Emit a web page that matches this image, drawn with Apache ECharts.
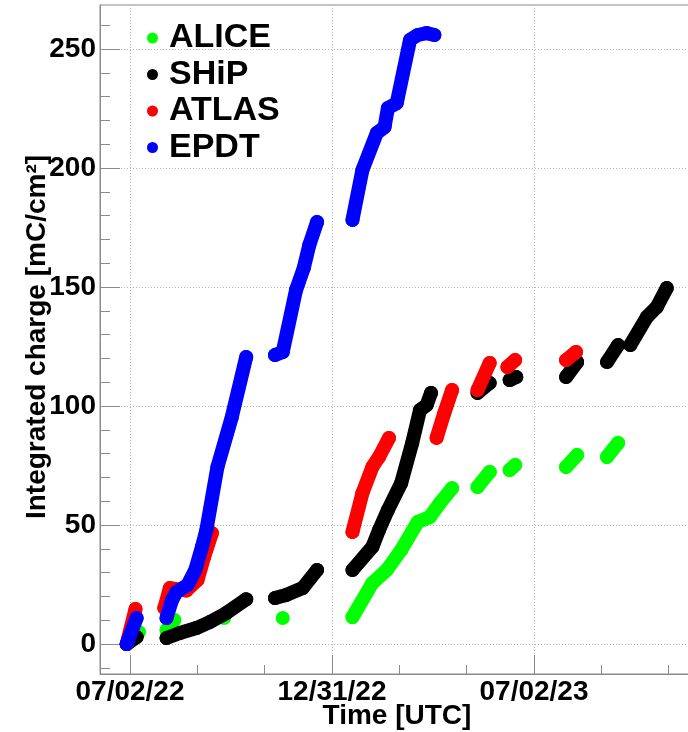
<!DOCTYPE html>
<html>
<head>
<meta charset="utf-8">
<script src="https://cdn.jsdelivr.net/npm/echarts@6/dist/echarts.min.js"></script>
<style>
html,body{margin:0;padding:0;background:#fff;overflow:hidden;}
#c{width:688px;height:732px;}
</style>
</head>
<body>
<div id="c"></div>
<script>
// ---- data: [date, integrated charge mC/cm2] per run segment ----
const seriesNames = ['ALICE', 'SHiP', 'ATLAS', 'EPDT'];
const seriesColors = ['#00ff00', '#000000', '#ff0000', '#0000ff'];

const aliceSegs = [
  [['2022-07-02', 1], ['2022-07-10', 5]],
  [['2022-08-04', 5.9], ['2022-08-11', 10.1]],
  [['2022-09-25', 10.9]],
  [['2022-11-17', 10.9]],
  [['2023-01-19', 11.3], ['2023-02-06', 25.6], ['2023-02-19', 31.1], ['2023-03-04', 39.5], ['2023-03-19', 51.3], ['2023-03-30', 53.4], ['2023-04-08', 59.2], ['2023-04-19', 65.5]],
  [['2023-05-12', 66], ['2023-05-23', 72.3]],
  [['2023-06-10', 73.1], ['2023-06-15', 75.2]],
  [['2023-07-31', 74.4], ['2023-08-10', 79.4]],
  [['2023-09-06', 78.6], ['2023-09-16', 84.5]]
];

const shipSegs = [
  [['2022-06-29', 0], ['2022-07-08', 2.9]],
  [['2022-08-04', 2.5], ['2022-08-16', 4.6], ['2022-08-31', 6.7], ['2022-09-12', 9.2], ['2022-09-27', 13], ['2022-10-15', 18.8]],
  [['2022-11-10', 19.3], ['2022-11-20', 20.6], ['2022-12-05', 23.5], ['2022-12-18', 31.1]],
  [['2023-01-19', 31.1], ['2023-02-06', 40.8], ['2023-02-12', 47.9], ['2023-02-20', 56.3], ['2023-03-04', 67.6], ['2023-03-14', 84.5], ['2023-03-21', 98.3], ['2023-03-27', 100.4], ['2023-03-31', 105.5]],
  [['2023-05-12', 105.5], ['2023-05-23', 109.7]],
  [['2023-06-10', 110.9], ['2023-06-16', 112.2]],
  [['2023-07-31', 112.2], ['2023-08-10', 118.5]],
  [['2023-09-06', 118.5], ['2023-09-16', 125.6]],
  [['2023-09-27', 125.6], ['2023-10-12', 137.4], ['2023-10-21', 141.6], ['2023-10-30', 149.6]]
];

const atlasSegs = [
  [['2022-06-29', 0], ['2022-07-07', 14.7]],
  [['2022-08-02', 15.1], ['2022-08-07', 23.5], ['2022-08-22', 22.5], ['2022-09-01', 26.9], ['2022-09-07', 36.6], ['2022-09-14', 46.6]],
  [['2023-01-19', 47.1], ['2023-01-28', 63.4], ['2023-02-06', 74.4], ['2023-02-12', 78.6], ['2023-02-21', 86.6]],
  [['2023-04-05', 86.6], ['2023-04-12', 97.1], ['2023-04-19', 106.7]],
  [['2023-05-12', 106.7], ['2023-05-23', 118.1]],
  [['2023-06-08', 116.4], ['2023-06-15', 119.3]],
  [['2023-07-31', 119.3], ['2023-08-09', 122.7]]
];

const epdtSegs = [
  [['2022-06-29', 0], ['2022-07-08', 10.9]],
  [['2022-08-04', 10.9], ['2022-08-09', 18.5], ['2022-08-13', 21.8], ['2022-08-23', 24.8], ['2022-08-30', 31.1], ['2022-09-05', 40.8], ['2022-09-09', 47.9], ['2022-09-19', 74.4], ['2022-10-02', 95.4], ['2022-10-15', 120.6]],
  [['2022-11-10', 121.4], ['2022-11-17', 122.7], ['2022-11-29', 148.7], ['2022-12-06', 158], ['2022-12-11', 167.6], ['2022-12-18', 177.3]],
  [['2023-01-19', 178.2], ['2023-01-28', 199.2], ['2023-02-10', 214.7], ['2023-02-17', 217.2], ['2023-02-20', 225.2], ['2023-02-28', 227.3], ['2023-03-12', 253.8], ['2023-03-19', 255.9], ['2023-03-27', 256.7], ['2023-04-03', 255.9]]
];

// ---- axis ticks / labels ----
const xMajorTicks = ['2022-07-02T00:00:00Z', '2022-12-31T12:00:00Z', '2023-07-02T00:00:00Z'];
const xTickLabels = ['07/02/22', '12/31/22', '07/02/23'];
const xMinorTicks = ['2022-07-02T00:00:00Z', '2022-08-31T20:00:00Z', '2022-10-31T16:00:00Z', '2022-12-31T12:00:00Z',
  '2023-03-02T08:00:00Z', '2023-05-02T04:00:00Z', '2023-07-02T00:00:00Z', '2023-08-31T20:00:00Z', '2023-10-31T16:00:00Z'];
const yMajorTicks = [0, 50, 100, 150, 200, 250];
const yMinorTicks = [-10, 0, 10, 20, 30, 40, 50, 60, 70, 80, 90, 100, 110, 120, 130, 140, 150, 160, 170, 180, 190, 200, 210, 220, 230, 240, 250, 260];

// ---- build ----
const DAY = 86400000;
const T0 = Date.parse('2022-07-02T00:00:00Z');
const xMin = T0 - 27.1 * DAY;
const xMax = T0 + 515.0 * DAY;
const yMin = -12.6, yMax = 268.5;

function toTs(s) { return s.length <= 10 ? Date.parse(s + 'T00:00:00Z') : Date.parse(s); }
function build(segs) {
  const out = [];
  segs.forEach((seg, i) => {
    seg.forEach(p => out.push([toTs(p[0]), p[1]]));
    if (i < segs.length - 1) out.push([toTs(seg[seg.length - 1][0]) + DAY / 2, null]);
  });
  return out;
}
const allSegs = [aliceSegs, shipSegs, atlasSegs, epdtSegs];
const majorTs = xMajorTicks.map(toTs);
const minorTs = xMinorTicks.map(toTs);

const FONT = '"Liberation Sans", Arial, Helvetica, sans-serif';
const GRAY = '#8a8a8a';
const gridLine = { show: true, lineStyle: { color: '#b4b4b4', type: [1, 2], width: 1 } };

const chart = echarts.init(document.getElementById('c'), null, { renderer: 'canvas' });
chart.setOption({
  animation: false,
  backgroundColor: '#fff',
  grid: { left: 100, top: 5, width: 600, height: 669, show: true, borderColor: GRAY, borderWidth: 1, containLabel: false, outerBoundsMode: 'none' },
  legend: {
    orient: 'vertical', left: 147, top: 20, padding: 0, itemGap: 0.5,
    itemWidth: 11, itemHeight: 11, icon: 'circle',
    data: seriesNames,
    textStyle: { fontFamily: FONT, fontWeight: 'bold', fontSize: 34, color: '#000', lineHeight: 36, padding: [0, 0, 0, 6] }
  },
  xAxis: [
    {
      type: 'value', min: xMin, max: xMax, position: 'bottom',
      axisLine: { show: true, onZero: false, lineStyle: { color: GRAY, width: 1 } },
      axisTick: { show: true, inside: true, length: 19, customValues: majorTs, lineStyle: { color: GRAY } },
      axisLabel: {
        show: true, customValues: majorTs, margin: 4,
        fontFamily: FONT, fontWeight: 'bold', fontSize: 28, color: '#000',
        formatter: v => { const i = majorTs.findIndex(t => Math.abs(t - v) < DAY); return i >= 0 ? xTickLabels[i] : ''; }
      },
      splitLine: gridLine
    },
    {
      type: 'value', min: xMin, max: xMax, position: 'bottom',
      axisLine: { show: false, onZero: false },
      axisTick: { show: true, inside: true, length: 9, customValues: minorTs, lineStyle: { color: GRAY } },
      axisLabel: { show: false },
      splitLine: { show: false }
    }
  ],
  yAxis: [
    {
      type: 'value', min: yMin, max: yMax, position: 'left',
      axisLine: { show: true, onZero: false, lineStyle: { color: GRAY, width: 1 } },
      axisTick: { show: true, inside: true, length: 20, customValues: yMajorTicks, lineStyle: { color: GRAY } },
      axisLabel: {
        show: true, customValues: yMajorTicks, margin: 4,
        fontFamily: FONT, fontWeight: 'bold', fontSize: 28, color: '#000'
      },
      splitLine: gridLine
    },
    {
      type: 'value', min: yMin, max: yMax, position: 'left',
      axisLine: { show: false, onZero: false },
      axisTick: { show: true, inside: true, length: 10, customValues: yMinorTicks, lineStyle: { color: GRAY } },
      axisLabel: { show: false },
      splitLine: { show: false }
    }
  ],
  graphic: [
    { type: 'text', x: 397, y: 716, style: { text: 'Time [UTC]', font: 'bold 28px ' + FONT, fill: '#000', align: 'center', verticalAlign: 'middle' } },
    { type: 'text', x: 37, y: 337, rotation: Math.PI / 2, style: { text: 'Integrated charge [mC/cm\u00B2]', font: 'bold 28px ' + FONT, fill: '#000', align: 'center', verticalAlign: 'middle' } }
  ],
  series: seriesNames.map((name, i) => ({
    name: name, type: 'line', xAxisIndex: 0, yAxisIndex: 0,
    z: 2 + i,
    data: build(allSegs[i]),
    connectNulls: false,
    symbol: 'circle', symbolSize: 14, showSymbol: true, showAllSymbol: true,
    itemStyle: { color: seriesColors[i] },
    lineStyle: { color: seriesColors[i], width: 14, cap: 'round', join: 'round' },
    emphasis: { disabled: true },
    silent: true
  }))
});
</script>
</body>
</html>
